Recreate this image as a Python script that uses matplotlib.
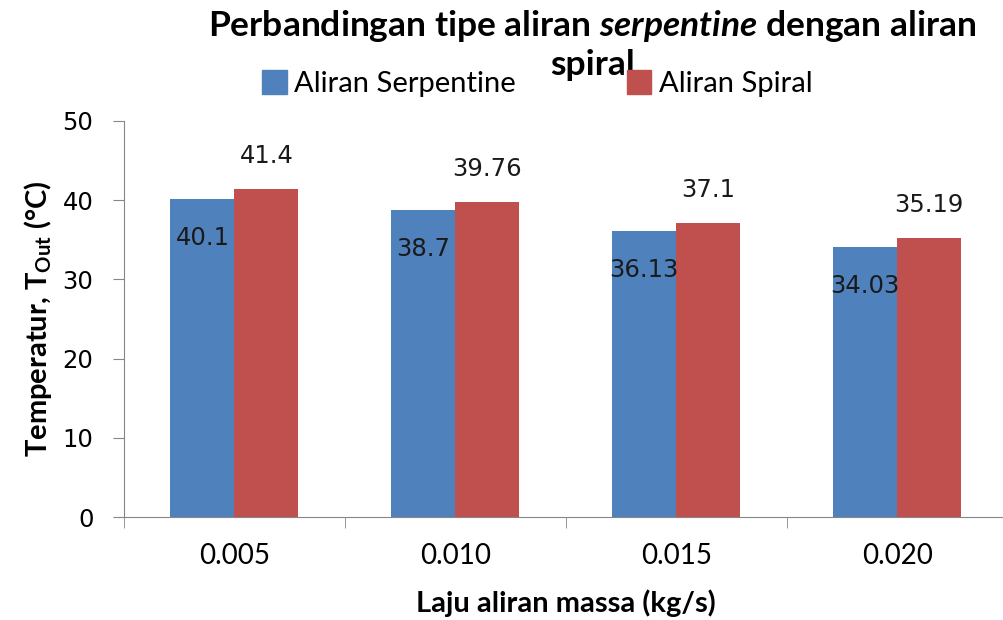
import numpy as np
import matplotlib
matplotlib.use('Agg')
import matplotlib.pyplot as plt
from matplotlib.patches import Patch

categories = ['0.005', '0.010', '0.015', '0.020']
serpentine = [40.1, 38.7, 36.13, 34.03]
spiral = [41.4, 39.76, 37.1, 35.19]
serp_labels = ['40.1', '38.7', '36.13', '34.03']
spir_labels = ['41.4', '39.76', '37.1', '35.19']

blue = '#4F81BD'
red = '#C0504D'
grey = '#868686'

plt.rcParams['mathtext.fontset'] = 'custom'
plt.rcParams['mathtext.rm'] = 'Lato'
plt.rcParams['mathtext.bf'] = 'Lato:bold'
plt.rcParams['mathtext.it'] = 'Lato:italic:bold'

fig = plt.figure(figsize=(10.04, 6.2), dpi=100)
ax = fig.add_axes([0.1235, 0.166, 0.88, 0.639])

x = np.arange(len(categories))
w = 0.29
ax.bar(x - w / 2, serpentine, w, color=blue)
ax.bar(x + w / 2, spiral, w, color=red)

# label angka (posisi manual seperti di Excel)
for i in range(len(categories)):
    ax.text(x[i] - w / 2, serpentine[i] - 4.9, serp_labels[i], ha='center', va='center',
            fontsize=17.5, family='DejaVu Sans', color='#1a1a1a')
    ax.text(x[i] + w / 2, spiral[i] + 4.2, spir_labels[i], ha='center', va='center',
            fontsize=17.5, family='DejaVu Sans', color='#1a1a1a')

ax.set_xlim(-0.5, 3.5)
ax.set_ylim(0, 50)
ax.set_yticks([0, 10, 20, 30, 40, 50])
ax.set_yticklabels(['0', '10', '20', '30', '40', '50'], family='DejaVu Sans', fontsize=17.5)
ax.set_xticks(x)
ax.set_xticklabels(categories, family='Lato', fontsize=20)
ax.set_xticks(np.arange(-0.5, 4.0, 1.0), minor=True)
ax.tick_params(axis='x', which='major', length=0, pad=19)
ax.tick_params(axis='x', which='minor', length=8, color=grey, direction='out')
ax.tick_params(axis='y', length=8, color=grey, direction='out', pad=14)

for s in ['top', 'right']:
    ax.spines[s].set_visible(False)
ax.spines['left'].set_color(grey)
ax.spines['bottom'].set_color(grey)

ax.set_ylabel(r'Temperatur, T$_{\mathbf{Out}}$ (°C)', family='Lato', fontweight='bold',
              fontsize=21, labelpad=6)
ax.set_xlabel('Laju aliran massa (kg/s)', family='Lato', fontweight='bold', fontsize=21,
              labelpad=14)

fig.text(0.59, 0.958, 'Perbandingan tipe aliran $\\mathit{serpentine}$ dengan aliran',
         ha='center', va='center', family='Lato', fontweight='bold', fontsize=25.5)
fig.text(0.59, 0.895, 'spiral', ha='center', va='center', family='Lato',
         fontweight='bold', fontsize=25.5)

handles = [Patch(color=blue, label='Aliran Serpentine'), Patch(color=red, label='Aliran Spiral')]
fig.legend(handles=handles, loc='center', bbox_to_anchor=(0.535, 0.865), ncol=2,
           frameon=False, prop={'family': 'Lato', 'size': 21}, columnspacing=3.8,
           handlelength=0.85, handleheight=0.85, handletextpad=0.25)

fig.savefig('out.png', dpi=100)
